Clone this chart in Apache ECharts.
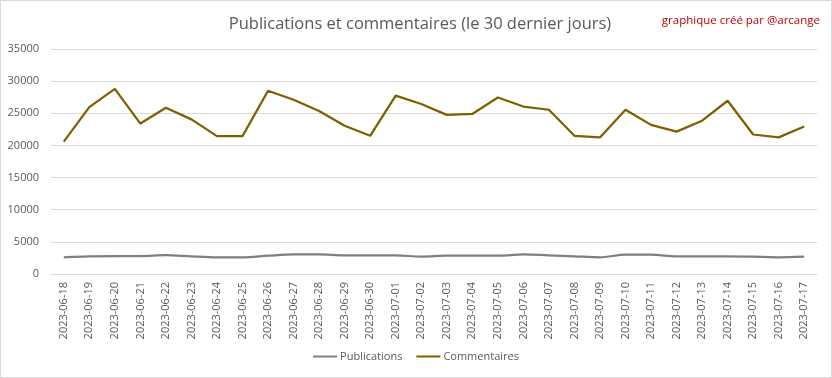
<!DOCTYPE html>
<html><head><meta charset="utf-8">
<script src="https://cdn.jsdelivr.net/npm/echarts@6/dist/echarts.min.js"></script>
<style>
html,body{margin:0;padding:0;background:#fff;}
#c{width:830px;height:376px;border:1px solid #d9d9d9;}
</style></head>
<body><div id="c"></div>
<script>
const categories = ["2023-06-18","2023-06-19","2023-06-20","2023-06-21","2023-06-22","2023-06-23","2023-06-24","2023-06-25","2023-06-26","2023-06-27","2023-06-28","2023-06-29","2023-06-30","2023-07-01","2023-07-02","2023-07-03","2023-07-04","2023-07-05","2023-07-06","2023-07-07","2023-07-08","2023-07-09","2023-07-10","2023-07-11","2023-07-12","2023-07-13","2023-07-14","2023-07-15","2023-07-16","2023-07-17"];
const publications = [2600,2750,2800,2800,2950,2750,2600,2600,2850,3050,3050,2900,2900,2900,2700,2850,2850,2850,3050,2900,2750,2600,3000,3000,2750,2750,2750,2700,2600,2700];
const commentaires = [20600,25950,28800,23400,25850,24050,21450,21450,28500,27100,25350,23050,21500,27750,26450,24750,24900,27450,26050,25550,21500,21250,25550,23200,22150,23850,26950,21700,21250,22950];
const yTicks = [0,5000,10000,15000,20000,25000,30000,35000];

const chart = echarts.init(document.getElementById('c'));
const txt = '#595959';
chart.setOption({
  animation:false,
  textStyle:{fontFamily:'Open Sans'},
  title:[{
    text:'Publications et commentaires (le 30 dernier jours)',
    left:414, top:10, textAlign:'center',
    textStyle:{fontSize:16.5, fontWeight:'normal', color:txt, fontFamily:'Open Sans'}
  },{
    text:'graphique créé par @arcange',
    right:6, top:9,
    textStyle:{fontSize:11.5, fontWeight:'normal', color:'#c00000', fontFamily:'Open Sans'}
  }],
  legend:{
    bottom:10, left:'center',
    itemWidth:24, itemHeight:2, itemGap:14,
    icon:'rect',
    textStyle:{color:txt, fontSize:11, padding:[0,0,0,-2]},
    data:['Publications','Commentaires']
  },
  grid:{left:50, right:14, top:48, bottom:103, containLabel:false},
  xAxis:{
    type:'category', data:categories, boundaryGap:true,
    axisLine:{lineStyle:{color:'#d9d9d9'}},
    axisTick:{show:false},
    axisLabel:{rotate:90, color:txt, fontSize:11, margin:8, interval:0}
  },
  yAxis:{
    type:'value', min:yTicks[0], max:yTicks[yTicks.length-1], interval:5000,
    axisLine:{show:false}, axisTick:{show:false},
    axisLabel:{color:txt, fontSize:11, margin:12, formatter:v=>String(v)},
    splitLine:{lineStyle:{color:'#d9d9d9'}}
  },
  series:[{
    name:'Publications', type:'line', data:publications, smooth:0.3,
    symbol:'none', lineStyle:{color:'#7f7f7f', width:2.25}, itemStyle:{color:'#7f7f7f'}
  },{
    name:'Commentaires', type:'line', data:commentaires,
    symbol:'none', lineStyle:{color:'#7f6000', width:2.25}, itemStyle:{color:'#7f6000'}
  }]
});
</script></body></html>
